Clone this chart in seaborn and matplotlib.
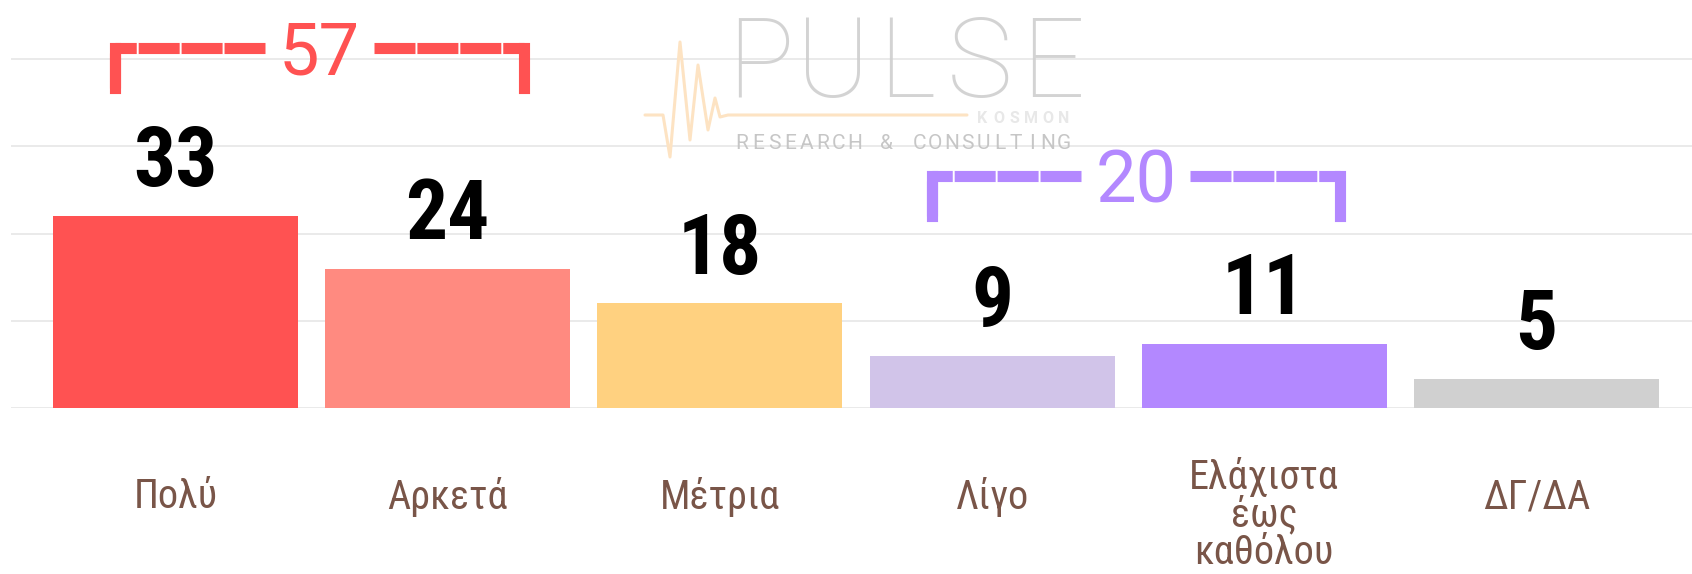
import numpy as np
import pandas as pd
import matplotlib
matplotlib.use('Agg')
from matplotlib import pyplot as plt
from matplotlib import font_manager
from matplotlib.lines import Line2D
import seaborn as sns

# data
categories = ['Πολύ', 'Αρκετά', 'Μέτρια', 'Λίγο', 'Ελάχιστα\nέως\nκαθόλου', 'ΔΓ/ΔΑ']
values = [33, 24, 18, 9, 11, 5]
bar_colors = ['#FF5252', '#FF8A80', '#FFD180', '#D1C4E9', '#B388FF', '#D0D0D0']
# bracket groups: first bar, last bar, colour
groups = [(0, 1, '#FF5252'), (3, 4, '#B388FF')]

sns.set_style('white')
installed = {f.name for f in font_manager.fontManager.ttflist}
narrow = next((f for f in ['Roboto Condensed', 'Liberation Sans Narrow', 'Roboto'] if f in installed), 'DejaVu Sans')
plt.rcParams['font.family'] = [narrow, 'DejaVu Sans']
plt.rcParams['lines.scale_dashes'] = False

df = pd.DataFrame({'answer': categories, 'pct': values})

W, H = 1692, 574
fig = plt.figure(figsize=(W / 100, H / 100), dpi=100)
ax = fig.add_axes([11 / W, 166 / H, 1681 / W, 408 / H])

sns.barplot(data=df, x='answer', y='pct', hue='answer', palette=bar_colors, legend=False,
            width=0.9, saturation=1, linewidth=0, ax=ax, zorder=2)

ax.set_xlim(-0.605, 5.572)
ax.set_ylim(0, 70.2)
ax.set_yticks([0, 15, 30, 45, 60])
ax.grid(axis='y', color='#e8e8e8', lw=1.3)
ax.grid(axis='x', visible=False)
ax.set_axisbelow(True)
ax.tick_params(length=0, labelleft=False, labelbottom=False)
for s in ax.spines.values():
    s.set_visible(False)
ax.set_xlabel('')
ax.set_ylabel('')

# value labels
for i, v in enumerate(values):
    ax.annotate(str(v), (i, v), xytext=(0, 21.5), textcoords='offset points',
                ha='center', va='baseline', fontsize=60, fontweight='bold', color='black')

# category labels under the bars
for i, lab in enumerate(categories):
    n = lab.count('\n') + 1
    y_px = 497 + 8.75 * (n - 1)
    ax.text(i, (408 - y_px) / 408, lab, transform=ax.get_xaxis_transform(),
            ha='center', va='center', fontsize=29, color='#795548',
            linespacing=0.95, clip_on=False)

# brackets with group totals
for a, b, col in groups:
    total = sum(values[a:b + 1])
    top = max(values[a:b + 1]) + 29
    bot = top - 7
    xl, xr = a - 0.222, b + 0.279
    mid = (xl + xr) / 2
    kw = dict(color=col, lw=8, clip_on=False, zorder=3)
    # vertical ends
    ax.plot([xl, xl], [bot, top], solid_capstyle='projecting', **kw)
    ax.plot([xr, xr], [bot, top], solid_capstyle='projecting', **kw)
    ax.plot([xl, xl], [bot, top - 1], solid_capstyle='butt', **kw)
    # horizontal arms, drawn outward from the label with thin breaks
    ax.plot([mid - 0.2, xl], [top, top], dashes=(29.5, 1.4), dash_capstyle='butt', **kw)
    ax.plot([mid + 0.2, xr], [top, top], dashes=(29.5, 1.4), dash_capstyle='butt', **kw)
    ax.annotate(str(total), (mid, top), xytext=(0, -19.5), textcoords='offset points',
                ha='center', va='baseline', fontsize=52, color=col,
                family=['Roboto', 'DejaVu Sans'], zorder=3)

# watermark logo
def fx(x):
    return x / W

def fy(y):
    return 1 - y / H

logo_pulse = [(645, 115), (663, 115), (670, 157), (680, 42), (690, 140), (698, 65),
              (708, 130), (715, 98), (720, 117), (728, 115), (967, 115)]
fig.add_artist(Line2D([fx(p[0]) for p in logo_pulse], [fy(p[1]) for p in logo_pulse],
                      transform=fig.transFigure, color='#fde3c3', lw=2.2, zorder=1))

for ch, x in zip('PULSE', np.linspace(760, 1053, 5)):
    fig.text(fx(x), fy(97), ch, ha='center', va='baseline', fontsize=80, color='#cfcfcf',
             fontweight='light', family=['Roboto', 'DejaVu Sans'], alpha=0.9)
word = 'RESEARCH & CONSULTING'
for ch, x in zip(word, np.linspace(742, 1064, len(word))):
    fig.text(fx(x), fy(143), ch, ha='center', va='center', fontsize=15, color='#c6c6c6',
             family=['Roboto', 'DejaVu Sans'])
for ch, x in zip('KOSMON', np.linspace(982, 1064, 6)):
    fig.text(fx(x), fy(123), ch, ha='center', va='baseline', fontsize=11.5, color='#e8e8e8',
             fontweight='bold', family=['Roboto', 'DejaVu Sans'])

fig.savefig('out.png', dpi=100)
